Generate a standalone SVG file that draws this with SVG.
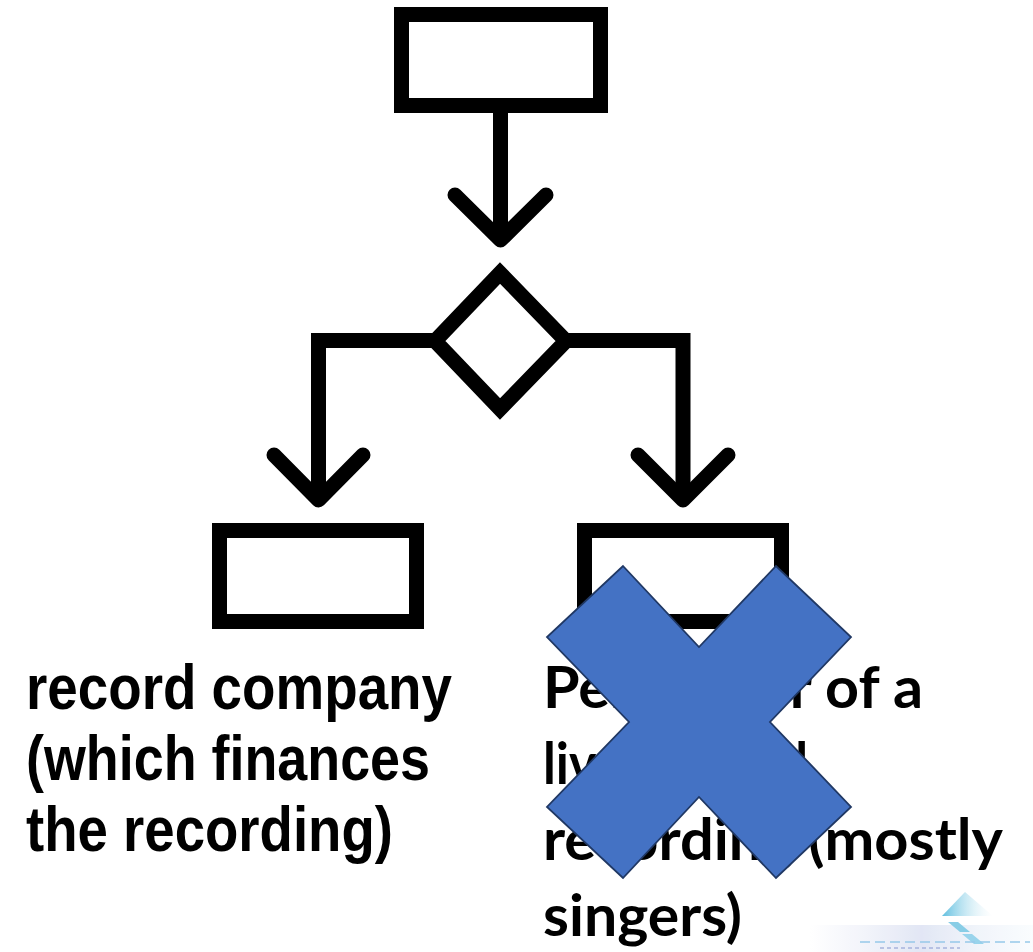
<svg xmlns="http://www.w3.org/2000/svg" width="1033" height="952" viewBox="0 0 1033 952">
<defs>
<style>
.box{fill:#fff;stroke:#000;stroke-width:15;stroke-linejoin:miter}
.line{fill:none;stroke:#000;stroke-width:15;stroke-linejoin:miter}
.head{fill:none;stroke:#000;stroke-width:15;stroke-linecap:round;stroke-linejoin:round}
.lt{font-family:"Liberation Sans",Arial,sans-serif;font-weight:bold;font-size:63px;fill:#000}
.rt{font-family:Lato,"Liberation Sans",sans-serif;font-weight:bold;font-size:58px;fill:#000}
</style>
<linearGradient id="tri" x1="0" y1="0" x2="1" y2="0">
<stop offset="0" stop-color="#4fb8dc"/>
<stop offset="1" stop-color="#d8f0f8" stop-opacity="0"/>
</linearGradient>
<linearGradient id="haze" x1="0" y1="0" x2="1" y2="0">
<stop offset="0" stop-color="#e6e9f6" stop-opacity="0"/>
<stop offset="0.5" stop-color="#dfe4f4"/>
<stop offset="1" stop-color="#eef6fb" stop-opacity="0.3"/>
</linearGradient>
</defs>
<rect width="1033" height="952" fill="#fff"/>

<g id="connectors">
<path class="line" d="M500.5 113 V238"/>
<path class="head" d="M455 195 L500.5 240 L546 195"/>
<path class="line" d="M434 340.5 H318.5 V498"/>
<path class="head" d="M274 455 L318.5 500 L363 455"/>
<path class="line" d="M566 340.5 H683 V498"/>
<path class="head" d="M638 455 L683 500 L728 455"/>
</g>

<g id="node-top">
<rect class="box" x="401.5" y="14.5" width="199" height="91"/>
</g>

<g id="node-decision">
<polygon class="box" stroke-width="14" points="500,273 566,341 500,409 435,341"/>
</g>

<g id="node-left">
<rect class="box" x="219.5" y="530.5" width="197" height="91"/>
<text class="lt" x="26" y="709" textLength="426" lengthAdjust="spacingAndGlyphs">record company</text>
<text class="lt" x="26" y="780" textLength="404" lengthAdjust="spacingAndGlyphs">(which finances</text>
<text class="lt" x="26" y="851" textLength="367" lengthAdjust="spacingAndGlyphs">the recording)</text>
</g>

<g id="node-right">
<rect class="box" x="584.5" y="530.5" width="197" height="91"/>
<text class="rt" x="543" y="708" textLength="380" lengthAdjust="spacingAndGlyphs">Performer of a</text>
<text class="rt" x="543" y="784" textLength="265" lengthAdjust="spacingAndGlyphs">live musical</text>
<text class="rt" x="543" y="860" textLength="460" lengthAdjust="spacingAndGlyphs">recording (mostly</text>
<text class="rt" x="543" y="936" textLength="199" lengthAdjust="spacingAndGlyphs">singers)</text>
</g>

<g id="cross">
<polygon fill="#4472C4" stroke="#203864" stroke-width="1.8" stroke-linejoin="miter" points="623,566 699,647 776,566 851,637 770,722 851,807 776,878 699,797 623,878 547,807 629,722 547,637"/>
</g>

<g id="logo" opacity="0.9">
<rect x="810" y="925" width="223" height="27" fill="url(#haze)"/>
<polygon points="942,916 965,892 993,916" fill="url(#tri)"/>
<polygon points="948,922 958,922 970,932 960,932" fill="#7cc8e4"/>
<polygon points="962,934 972,934 984,944 974,944" fill="#8ed0ea"/>
<path d="M860 942 H1030" stroke="#8cc4e8" stroke-width="1.5" stroke-dasharray="10 5"/>
<path d="M880 948 H960" stroke="#9aa8d8" stroke-width="2" stroke-dasharray="4 3" opacity="0.7"/>
</g>
</svg>
